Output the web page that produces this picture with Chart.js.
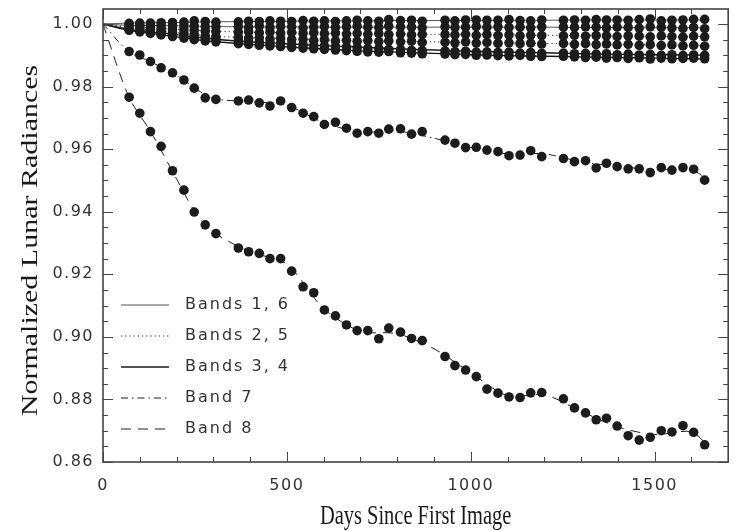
<!DOCTYPE html>
<html>
<head>
<meta charset="utf-8">
<script src="https://cdn.jsdelivr.net/npm/chart.js@4/dist/chart.umd.min.js"></script>
<style>
  html, body { margin: 0; padding: 0; background: #fff; }
</style>
</head>
<body>
<canvas id="chart" width="733" height="531"></canvas>
<script>
// sample days (same epochs for every band)
const days = [71, 100, 129, 158, 189, 220, 248, 278, 307,
	368, 396, 425, 454, 483, 513, 544, 573, 602, 632, 662, 691, 720, 750, 777, 809, 839, 868,
	930, 957, 986, 1015, 1044, 1074, 1104, 1134, 1163, 1193,
	1252, 1282, 1312, 1341, 1369, 1398, 1428, 1458, 1488, 1518, 1547, 1577, 1606, 1636];

const band1 = [1.0002, 1.0003, 1.0003, 1.0004, 1.0005, 1.0006, 1.0010, 1.0008, 1.0006,
	1.0007, 1.0009, 1.0008, 1.0010, 1.0009, 1.0008, 1.0011, 1.0009, 1.0010, 1.0008, 1.0010, 1.0012, 1.0010, 1.0009, 1.0014, 1.0011, 1.0012, 1.0009,
	1.0012, 1.0010, 1.0013, 1.0013, 1.0012, 1.0012, 1.0014, 1.0011, 1.0010, 1.0013,
	1.0012, 1.0013, 1.0012, 1.0014, 1.0013, 1.0013, 1.0012, 1.0014, 1.0016, 1.0010, 1.0012, 1.0013, 1.0015, 1.0015];
const band6 = [0.9997, 0.9996, 0.9996, 0.9995, 0.9996, 0.9994, 0.9993, 0.9992, 0.9991,
	0.9992, 0.9990, 0.9993, 0.9989, 0.9992, 0.9991, 0.9988, 0.9990, 0.9992, 0.9989, 0.9991, 0.9993, 0.9990, 0.9989, 0.9993, 0.9991, 0.9990, 0.9988,
	0.9991, 0.9989, 0.9990, 0.9992, 0.9990, 0.9991, 0.9989, 0.9990, 0.9988, 0.9991,
	0.9990, 0.9989, 0.9991, 0.9990, 0.9988, 0.9990, 0.9989, 0.9987, 0.9991, 0.9989, 0.9988, 0.9986, 0.9989, 0.9985];
const band2 = [0.9992, 0.9990, 0.9988, 0.9986, 0.9984, 0.9982, 0.9980, 0.9978, 0.9976,
	0.9974, 0.9975, 0.9972, 0.9974, 0.9971, 0.9973, 0.9970, 0.9972, 0.9969, 0.9971, 0.9968, 0.9970, 0.9967, 0.9969, 0.9966, 0.9968, 0.9965, 0.9967,
	0.9966, 0.9965, 0.9967, 0.9964, 0.9966, 0.9963, 0.9965, 0.9962, 0.9964, 0.9963,
	0.9962, 0.9964, 0.9961, 0.9963, 0.9962, 0.9960, 0.9962, 0.9961, 0.9959, 0.9962, 0.9960, 0.9958, 0.9961, 0.9959];
const band5 = [0.9987, 0.9984, 0.9981, 0.9977, 0.9973, 0.9970, 0.9966, 0.9962, 0.9960,
	0.9957, 0.9955, 0.9956, 0.9952, 0.9954, 0.9950, 0.9951, 0.9948, 0.9950, 0.9946, 0.9948, 0.9945, 0.9947, 0.9944, 0.9946, 0.9943, 0.9945, 0.9941,
	0.9942, 0.9940, 0.9943, 0.9939, 0.9941, 0.9938, 0.9940, 0.9937, 0.9939, 0.9936,
	0.9938, 0.9935, 0.9937, 0.9934, 0.9936, 0.9933, 0.9935, 0.9932, 0.9934, 0.9931, 0.9933, 0.9930, 0.9932, 0.9929];
const band3 = [0.9983, 0.9979, 0.9975, 0.9971, 0.9967, 0.9962, 0.9958, 0.9955, 0.9952,
	0.9946, 0.9944, 0.9942, 0.9940, 0.9938, 0.9935, 0.9934, 0.9931, 0.9930, 0.9928, 0.9926, 0.9925, 0.9922, 0.9921, 0.9919, 0.9918, 0.9916, 0.9915,
	0.9914, 0.9912, 0.9913, 0.9910, 0.9911, 0.9909, 0.9910, 0.9907, 0.9909, 0.9906,
	0.9907, 0.9905, 0.9906, 0.9904, 0.9905, 0.9902, 0.9904, 0.9901, 0.9903, 0.9900, 0.9902, 0.9899, 0.9901, 0.9900];
const band4 = [0.9980, 0.9975, 0.9970, 0.9965, 0.9960, 0.9955, 0.9950, 0.9946, 0.9943,
	0.9937, 0.9935, 0.9932, 0.9930, 0.9928, 0.9925, 0.9923, 0.9921, 0.9919, 0.9917, 0.9915, 0.9913, 0.9911, 0.9910, 0.9912, 0.9908, 0.9907, 0.9905,
	0.9904, 0.9902, 0.9903, 0.9900, 0.9901, 0.9899, 0.9898, 0.9900, 0.9897, 0.9896,
	0.9897, 0.9895, 0.9893, 0.9894, 0.9891, 0.9893, 0.9890, 0.9892, 0.9888, 0.9891, 0.9889, 0.9890, 0.9891, 0.9889];
const band7 = [0.9912, 0.9901, 0.9880, 0.9860, 0.9844, 0.9821, 0.9795, 0.9764, 0.9759,
	0.9754, 0.9757, 0.9748, 0.9738, 0.9754, 0.9733, 0.9715, 0.9704, 0.9679, 0.9686, 0.9667, 0.9651, 0.9656, 0.9651, 0.9664, 0.9665, 0.9648, 0.9656,
	0.9629, 0.9619, 0.9605, 0.9606, 0.9597, 0.9592, 0.9579, 0.9581, 0.9595, 0.9576,
	0.9570, 0.9560, 0.9563, 0.9540, 0.9555, 0.9544, 0.9537, 0.9537, 0.9525, 0.9541, 0.9533, 0.9541, 0.9536, 0.9501];
const band8 = [0.9766, 0.9715, 0.9656, 0.9609, 0.9531, 0.9469, 0.9399, 0.9358, 0.9330,
	0.9284, 0.9272, 0.9267, 0.9250, 0.9250, 0.9210, 0.9160, 0.9141, 0.9086, 0.9067, 0.9038, 0.9020, 0.9020, 0.8994, 0.9028, 0.9015, 0.8995, 0.8988,
	0.8937, 0.8908, 0.8894, 0.8873, 0.8833, 0.8820, 0.8808, 0.8806, 0.8821, 0.8822,
	0.8802, 0.8773, 0.8757, 0.8735, 0.8740, 0.8715, 0.8684, 0.8670, 0.8679, 0.8700, 0.8696, 0.8716, 0.8695, 0.8655];

// smooth fits, all normalised to 1 at day 0
const fitDays = [0, 70, 130, 200, 250, 300, 400, 500, 600, 700, 800, 900, 1000, 1100, 1200, 1300, 1400, 1500, 1600, 1640];
const fit1 = [1.0000, 1.0003, 1.0004, 1.0005, 1.0006, 1.0007, 1.0008, 1.0009, 1.0010, 1.0010, 1.0011, 1.0011, 1.0012, 1.0012, 1.0012, 1.0013, 1.0013, 1.0013, 1.0013, 1.0013];
const fit6 = [1.0000, 0.9996, 0.9995, 0.9994, 0.9993, 0.9992, 0.9991, 0.9991, 0.9990, 0.9990, 0.9990, 0.9990, 0.9990, 0.9990, 0.9990, 0.9989, 0.9989, 0.9988, 0.9988, 0.9987];
const fit2 = [1.0000, 0.9991, 0.9987, 0.9983, 0.9980, 0.9977, 0.9974, 0.9972, 0.9970, 0.9969, 0.9968, 0.9967, 0.9966, 0.9965, 0.9964, 0.9963, 0.9962, 0.9961, 0.9960, 0.9960];
const fit5 = [1.0000, 0.9987, 0.9980, 0.9972, 0.9966, 0.9961, 0.9956, 0.9952, 0.9949, 0.9947, 0.9945, 0.9943, 0.9941, 0.9939, 0.9938, 0.9936, 0.9935, 0.9933, 0.9931, 0.9930];
const fit3 = [1.0000, 0.9983, 0.9975, 0.9966, 0.9958, 0.9952, 0.9943, 0.9937, 0.9931, 0.9926, 0.9921, 0.9917, 0.9913, 0.9910, 0.9908, 0.9905, 0.9903, 0.9902, 0.9901, 0.9900];
const fit4 = [1.0000, 0.9980, 0.9970, 0.9959, 0.9951, 0.9944, 0.9935, 0.9927, 0.9920, 0.9914, 0.9910, 0.9906, 0.9902, 0.9899, 0.9897, 0.9895, 0.9893, 0.9891, 0.9889, 0.9888];
const fit7 = [1.0000, 0.9912, 0.9879, 0.9836, 0.9795, 0.9762, 0.9752, 0.9740, 0.9685, 0.9655, 0.9658, 0.9635, 0.9605, 0.9585, 0.9585, 0.9560, 0.9545, 0.9535, 0.9535, 0.9505];
const fit8 = [1.0000, 0.9768, 0.9655, 0.9505, 0.9400, 0.9335, 0.9272, 0.9232, 0.9090, 0.9018, 0.9010, 0.8962, 0.8885, 0.8812, 0.8815, 0.8762, 0.8712, 0.8688, 0.8697, 0.8658];

const xTicks = [0, 500, 1000, 1500];
const yTicks = [0.86, 0.88, 0.90, 0.92, 0.94, 0.96, 0.98, 1.00];
const xTitle = 'Days Since First Image';
const yTitle = 'Normalized Lunar Radiances';

const pts = vals => vals.map((v, i) => ({x: days[i], y: v}));
const fit = vals => vals.map((v, i) => ({x: fitDays[i], y: v}));

const dots = vals => ({
	data: pts(vals),
	pointRadius: 4.8,
	pointBackgroundColor: '#1c1c1c',
	pointBorderWidth: 0,
	showLine: false,
	order: 0
});

const curve = (vals, style, legendText) => Object.assign({
	data: fit(vals),
	showLine: true,
	pointRadius: 0,
	tension: 0.3,
	fill: false,
	order: 1,
	legendText
}, style);

const thin = {borderColor: '#555', borderWidth: 1};
const dotted = {borderColor: '#333', borderWidth: 1, borderDash: [1.2, 3]};
const solid = {borderColor: '#1a1a1a', borderWidth: 1.4};
const dashDot = {borderColor: '#222', borderWidth: 1, borderDash: [7, 4, 1.5, 4]};
const dashed = {borderColor: '#222', borderWidth: 1, borderDash: [10, 7]};

// inward tick marks and the closed frame
const frame = {
	id: 'frame',
	afterDraw(chart) {
		const {ctx, chartArea: a, scales: {x, y}} = chart;
		ctx.save();
		ctx.strokeStyle = '#444';
		ctx.lineWidth = 1;
		ctx.beginPath();
		for (let d = 0; d <= x.max; d += 100) {
			const px = Math.round(x.getPixelForValue(d)) + 0.5;
			const len = d % 500 === 0 ? 10 : 5;
			ctx.moveTo(px, a.bottom); ctx.lineTo(px, a.bottom - len);
			ctx.moveTo(px, a.top); ctx.lineTo(px, a.top + len);
		}
		for (let i = 0; i * 0.005 + 0.86 <= y.max; i++) {
			const py = Math.round(y.getPixelForValue(0.86 + i * 0.005)) + 0.5;
			const len = i % 4 === 0 ? 10 : 5;
			ctx.moveTo(a.left, py); ctx.lineTo(a.left + len, py);
			ctx.moveTo(a.right, py); ctx.lineTo(a.right - len, py);
		}
		ctx.stroke();
		ctx.lineWidth = 1.6;
		ctx.strokeRect(a.left, a.top, a.right - a.left, a.bottom - a.top);
		ctx.restore();
	}
};

// line key in the lower left corner of the plot
const lineKey = {
	id: 'lineKey',
	afterDraw(chart) {
		const {ctx, chartArea: a} = chart;
		const rows = chart.data.datasets.filter(ds => ds.legendText);
		ctx.save();
		ctx.letterSpacing = '2px';
		ctx.font = '16px "DejaVu Sans"';
		ctx.fillStyle = '#333';
		ctx.textBaseline = 'middle';
		rows.forEach((ds, i) => {
			const yy = a.top + 296 + i * 31;
			ctx.strokeStyle = ds.borderColor;
			ctx.lineWidth = ds.borderWidth;
			ctx.setLineDash(ds.borderDash || []);
			ctx.beginPath();
			ctx.moveTo(a.left + 18, yy);
			ctx.lineTo(a.left + 66, yy);
			ctx.stroke();
			ctx.fillText(ds.legendText, a.left + 82, yy);
		});
		ctx.restore();
	}
};

// serif axis titles, slightly condensed
const axisTitles = {
	id: 'axisTitles',
	beforeDraw(chart) {
		chart.ctx.letterSpacing = '1.5px';
	},
	afterDraw(chart) {
		const {ctx, chartArea: a} = chart;
		ctx.save();
		ctx.letterSpacing = '0px';
		ctx.fillStyle = '#1a1a1a';
		ctx.textAlign = 'center';
		ctx.textBaseline = 'alphabetic';
		ctx.font = '28px "Liberation Serif"';
		ctx.save();
		ctx.translate((a.left + a.right) / 2, 524);
		ctx.scale(0.73, 1);
		ctx.fillText(xTitle, 0, 0);
		ctx.restore();
		ctx.font = '30px "Liberation Serif"';
		ctx.translate(37, (a.top + a.bottom) / 2 + 5);
		ctx.rotate(-Math.PI / 2);
		ctx.scale(1, 0.8);
		ctx.fillText(yTitle, 0, 0);
		ctx.restore();
	}
};

const tickFont = {family: 'DejaVu Sans', size: 16};

new Chart(document.getElementById('chart'), {
	type: 'scatter',
	data: {
		datasets: [
			dots(band1), dots(band6), dots(band2), dots(band5),
			dots(band3), dots(band4), dots(band7), dots(band8),
			curve(fit1, thin, 'Bands 1, 6'), curve(fit6, thin),
			curve(fit2, dotted, 'Bands 2, 5'), curve(fit5, dotted),
			curve(fit3, solid, 'Bands 3, 4'), curve(fit4, solid),
			curve(fit7, dashDot, 'Band 7'),
			curve(fit8, dashed, 'Band 8')
		]
	},
	options: {
		responsive: false,
		animation: false,
		devicePixelRatio: 1,
		layout: {padding: {top: 9, right: 2, left: 0, bottom: 0}},
		plugins: {
			legend: {display: false},
			tooltip: {enabled: false}
		},
		scales: {
			x: {
				type: 'linear',
				min: 0,
				max: 1700,
				grid: {display: false, drawTicks: false},
				border: {display: false},
				afterBuildTicks: scale => { scale.ticks = xTicks.map(v => ({value: v})); },
				afterFit: scale => {
					scale.height = 69;
					scale.paddingLeft = scale.paddingRight = 0;
				},
				ticks: {
					font: tickFont,
					color: '#333',
					padding: 14,
					maxRotation: 0,
					callback: v => String(v)
				}
			},
			y: {
				type: 'linear',
				min: 0.86,
				max: 1.0048,
				grid: {display: false, drawTicks: false},
				border: {display: false},
				afterBuildTicks: scale => { scale.ticks = yTicks.map(v => ({value: v})); },
				afterFit: scale => {
					scale.width = 103;
					scale.paddingTop = scale.paddingBottom = 0;
				},
				ticks: {
					font: tickFont,
					color: '#333',
					padding: 9,
					callback: v => v.toFixed(2)
				}
			}
		}
	},
	plugins: [frame, lineKey, axisTitles]
});
</script>
</body>
</html>
